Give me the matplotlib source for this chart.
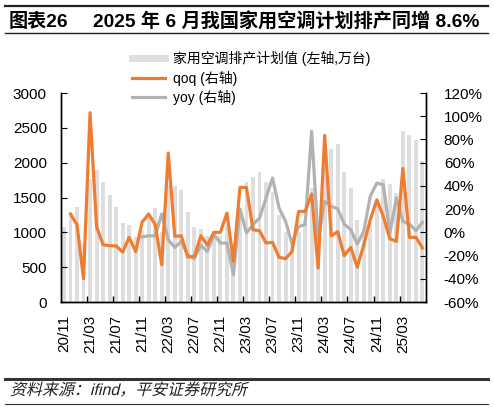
import numpy as np
import pandas as pd
import matplotlib
matplotlib.use("Agg")
import matplotlib.pyplot as plt
from matplotlib.lines import Line2D
from matplotlib.patches import PathPatch
from matplotlib.textpath import TextPath
from matplotlib.font_manager import FontProperties
from matplotlib.transforms import Affine2D

plt.rcParams['font.family'] = ['Liberation Sans', 'Noto Sans CJK SC']
plt.rcParams['axes.unicode_minus'] = False

# monthly categories 2020/11 .. 2025/06
months = pd.period_range('2020-11', '2025-06', freq='M')
tick_labels = ['20/11', '21/03', '21/07', '21/11', '22/03', '22/07', '22/11',
               '23/03', '23/07', '23/11', '24/03', '24/07', '24/11', '25/03']

# household AC production plan (10k units, left axis)
plan = [1080, 1250, 1360, 850, 1765, 1895, 1720, 1530, 1360, 1140, 1105, 940,
        1040, 1215, 1350, 1010, 1680, 1660, 1610, 1290, 1070, 1045, 950, 950,
        952, 1108, 845, 1200, 1720, 1800, 1870, 1720, 1572, 1250, 1000, 845,
        1000, 1180, 1640, 1130, 2150, 2200, 2270, 1860, 1640, 1170, 1030, 1130,
        1470, 1760, 1690, 1570, 2460, 2390, 2320, 2030]

# month-over-month change, % (right axis)
qoq = [np.nan, 15.8, 6.6, -40.0, 103.0, 5.0, -10.7, -11.5, -11.7, -17.0, -4.3, -16.6,
       8.9, 15.8, 6.6, -27.9, 68.3, -3.4, -3.0, -21.3, -20.8, -3.0, -11.0, 0.0,
       0.0, 16.6, -25.0, 38.7, 38.7, 2.3, 1.4, -9.2, -8.6, -21.5, -22.7, -16.4,
       18.0, 18.0, 33.0, -30.7, 83.5, -3.0, 0.5, -20.0, -13.0, -30.0, -10.7, 10.9,
       28.0, 13.8, -5.5, -7.8, 55.0, -4.3, -4.3, -13.5]

# year-over-year change, % (right axis)
yoy = [np.nan] * 12 + [
       -4.0, -3.0, -3.0, 15.8, -6.3, -13.0, -7.8, -19.3, -22.7, -11.0, -16.4, -2.0,
       -9.2, -9.2, -36.5, 20.3, -0.6, 6.6, 12.3, 29.5, 46.8, 21.0, 9.5, -10.0,
       5.0, 6.6, 87.0, -6.3, 26.7, 22.4, 20.3, 7.1, 2.3, -10.0, 0.9, 31.0,
       42.4, 41.0, -0.6, 29.5, 9.5, 7.1, 1.4, 8.6]

BAR_C = '#dedede'
QOQ_C = '#ef7d31'
YOY_C = '#b2b2b2'

W, H = 494, 408
x = np.arange(len(months))

fig = plt.figure(figsize=(W / 100, H / 100), dpi=100)
ax1 = fig.add_axes([60.7 / W, 1 - 302 / H, 365 / W, 209 / H])
ax2 = ax1.twinx()

ax1.bar(x, plan, width=0.6, color=BAR_C, zorder=1)
ax2.plot(x, yoy, color=YOY_C, lw=2.3, zorder=2)
ax2.plot(x, qoq, color=QOQ_C, lw=2.3, zorder=3)

ax1.set_xlim(-0.5, len(x) - 0.5)
ax1.set_ylim(0, 3000)
ax1.set_yticks(np.arange(0, 3001, 500))
ax2.set_ylim(-60, 120)
ax2.set_yticks(np.arange(-60, 121, 20))
ax2.set_yticklabels([f'{v}%' for v in range(-60, 121, 20)])

# labels on every 4th month, tick marks on the category boundaries
ax1.set_xticks(x[::4])
ax1.set_xticklabels(tick_labels, rotation=90)
ax1.set_xticks(np.arange(3.5, len(x) - 1, 4), minor=True)
ax1.tick_params(axis='x', which='major', length=0, pad=9, labelsize=11)
ax1.tick_params(axis='x', which='minor', length=4, direction='in', width=1)
ax1.tick_params(axis='y', direction='in', length=4, pad=10, labelsize=11)
ax2.tick_params(axis='y', direction='in', length=4, pad=13, labelsize=11)

for ax in (ax1, ax2):
    ax.spines['top'].set_visible(False)
    for s in ('left', 'right', 'bottom'):
        ax.spines[s].set_color('black')
        ax.spines[s].set_linewidth(1)

handles = [Line2D([], [], color=BAR_C, lw=5),
           Line2D([], [], color=QOQ_C, lw=2.3),
           Line2D([], [], color=YOY_C, lw=2.3)]
labels = ['家用空调排产计划值 (左轴,万台)', 'qoq (右轴)', 'yoy (右轴)']
fig.legend(handles, labels, loc='upper left', bbox_to_anchor=(132 / W, 1 - 51 / H),
           frameon=False, fontsize=10, handlelength=2.4, handletextpad=0.55,
           labelspacing=0.32, borderpad=0, borderaxespad=0)

# header
fig.add_artist(Line2D([5 / W, 488 / W], [1 - 6 / H] * 2, color='#222222', lw=1.6))
fig.add_artist(Line2D([5 / W, 488 / W], [1 - 33 / H] * 2, color='#222222', lw=1.0))
fig.text(9 / W, 1 - 22 / H, '图表26', fontsize=13.8, weight='bold', va='center')
fig.text(93 / W, 1 - 22 / H, '2025 年 6 月我国家用空调计划排产同增 8.6%',
         fontsize=13.8, weight='bold', va='center')

# footer, source line drawn as a slanted text path (CJK fonts have no italic)
fig.add_artist(Line2D([5 / W, 488 / W], [1 - 379 / H] * 2, color='#333333', lw=2.2))
fig.add_artist(Line2D([5 / W, 488 / W], [1 - 404 / H] * 2, color='#333333', lw=0.8))
src = TextPath((0, 0), '资料来源：ifind，平安证券研究所', size=11.5,
               prop=FontProperties(family=['Liberation Sans', 'Noto Sans CJK SC']))
src_tf = (Affine2D().skew_deg(14, 0).scale(100 / 72)
          .translate(10, H - 395))
fig.add_artist(PathPatch(src, transform=src_tf, color='#222222', lw=0))

fig.savefig('out.png', dpi=100)
